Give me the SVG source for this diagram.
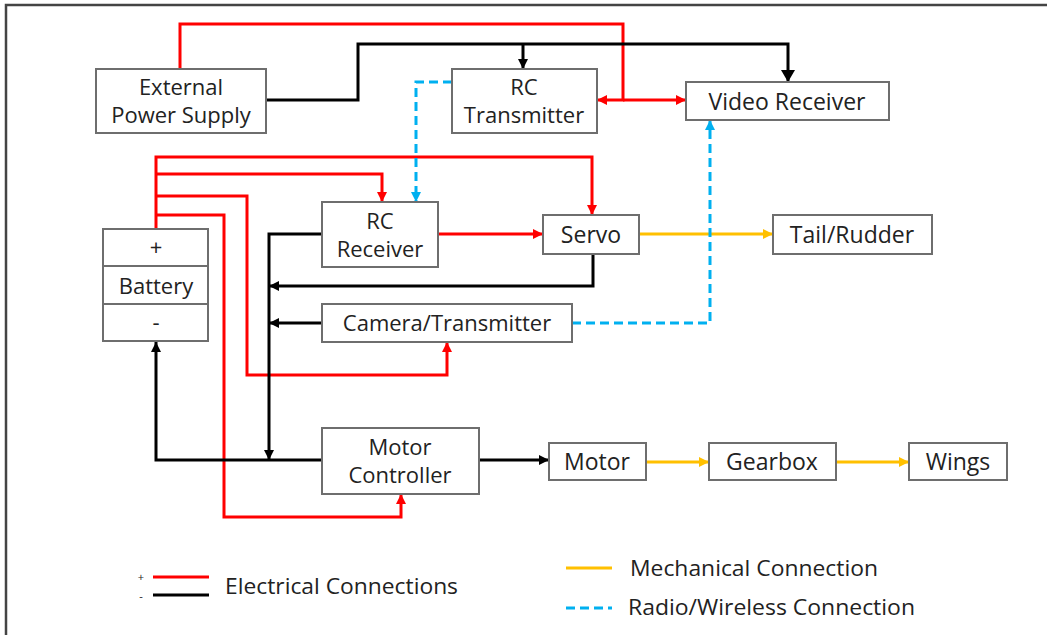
<svg xmlns="http://www.w3.org/2000/svg" width="1047" height="635" viewBox="0 0 1047 635">
<style>
.box{fill:#fff;stroke:#6e6e6e;stroke-width:2}
.t{font-family:"Open Sans","Liberation Sans",sans-serif;font-size:22px;fill:#222;text-anchor:middle}
.s{font-size:23px}
.lt{font-family:"Open Sans","Liberation Sans",sans-serif;font-size:21px;fill:#222}
.r{fill:none;stroke:#ff0000;stroke-width:3}
.k{fill:none;stroke:#000;stroke-width:3}
.y{fill:none;stroke:#ffc000;stroke-width:3}
.b{fill:none;stroke:#00b0f0;stroke-width:3;stroke-dasharray:9 5}
</style>
<defs>
<marker id="ar" markerUnits="userSpaceOnUse" markerWidth="10" markerHeight="10" refX="10" refY="5" orient="auto"><path d="M0,0 L10,5 L0,10 z" fill="#ff0000"/></marker>
<marker id="ak" markerUnits="userSpaceOnUse" markerWidth="10" markerHeight="10" refX="10" refY="5" orient="auto"><path d="M0,0 L10,5 L0,10 z" fill="#000"/></marker>
<marker id="akL" markerUnits="userSpaceOnUse" markerWidth="12" markerHeight="14" refX="12" refY="7" orient="auto"><path d="M0,0 L12,7 L0,14 z" fill="#000"/></marker>
<marker id="ay" markerUnits="userSpaceOnUse" markerWidth="10" markerHeight="10" refX="10" refY="5" orient="auto"><path d="M0,0 L10,5 L0,10 z" fill="#ffc000"/></marker>
<marker id="ab" markerUnits="userSpaceOnUse" markerWidth="10" markerHeight="10" refX="10" refY="5" orient="auto"><path d="M0,0 L10,5 L0,10 z" fill="#00b0f0"/></marker>
</defs>
<rect width="1047" height="635" fill="#fff"/>
<path d="M6,635 V5 H1047" fill="none" stroke="#444" stroke-width="2.5"/>

<g id="connectors">
<path class="r" d="M180,69 V24 H623 V100 H597" marker-end="url(#ar)"/>
<path class="r" d="M623,100 H686" marker-end="url(#ar)"/>
<path class="r" d="M156,229 V157 H592 V215" marker-end="url(#ar)"/>
<path class="r" d="M156,174 H382 V202" marker-end="url(#ar)"/>
<path class="r" d="M156,196 H247 V375 H447 V342" marker-end="url(#ar)"/>
<path class="r" d="M156,215 H224 V517 H401 V494" marker-end="url(#ar)"/>
<path class="r" d="M437,234 H543" marker-end="url(#ar)"/>
<path class="k" d="M266,100 H358 V44 H788 V82" marker-end="url(#akL)"/>
<path class="k" d="M523,44 V69" marker-end="url(#ak)"/>
<path class="k" d="M322,234 H269 V460" marker-end="url(#ak)"/>
<path class="k" d="M593,254 V286 H269" marker-end="url(#ak)"/>
<path class="k" d="M322,323 H269" marker-end="url(#ak)"/>
<path class="k" d="M322,460 H156 V342" marker-end="url(#ak)"/>
<path class="k" d="M479,460 H549" marker-end="url(#ak)"/>
<path class="y" d="M639,234 H773" marker-end="url(#ay)"/>
<path class="y" d="M646,462 H709" marker-end="url(#ay)"/>
<path class="y" d="M836,462 H909" marker-end="url(#ay)"/>
<path class="b" d="M452,82 H416 V202" marker-end="url(#ab)"/>
<path class="b" d="M572,323 H710 V120" marker-end="url(#ab)"/>
</g>

<g id="external-power-supply"><rect class="box" x="96" y="69" width="170" height="64"/><text class="t" x="181" y="95">External</text><text class="t" x="181" y="123">Power Supply</text></g>
<g id="rc-transmitter"><rect class="box" x="452" y="69" width="145" height="64"/><text class="t" x="524" y="95">RC</text><text class="t" x="524" y="123">Transmitter</text></g>
<g id="video-receiver"><rect class="box" x="686" y="82" width="203" height="38"/><text class="t s" x="787" y="110">Video Receiver</text></g>
<g id="rc-receiver"><rect class="box" x="322" y="202" width="116" height="65"/><text class="t" x="380" y="229">RC</text><text class="t" x="380" y="257">Receiver</text></g>
<g id="servo"><rect class="box" x="543" y="215" width="96" height="39"/><text class="t s" x="591" y="243">Servo</text></g>
<g id="tail-rudder"><rect class="box" x="773" y="215" width="159" height="39"/><text class="t s" x="852" y="243">Tail/Rudder</text></g>
<g id="battery"><rect class="box" x="103" y="229" width="105" height="112"/><path d="M103,266 H208 M103,304 H208" stroke="#6e6e6e" stroke-width="2"/><text class="t" x="156" y="255">+</text><text class="t" x="156" y="294">Battery</text><text class="t" x="156" y="330">-</text></g>
<g id="camera-transmitter"><rect class="box" x="322" y="304" width="250" height="38"/><text class="t" x="447" y="331">Camera/Transmitter</text></g>
<g id="motor-controller"><rect class="box" x="322" y="428" width="157" height="66"/><text class="t" x="400" y="455">Motor</text><text class="t" x="400" y="483">Controller</text></g>
<g id="motor"><rect class="box" x="549" y="443" width="97" height="37"/><text class="t s" x="597" y="470">Motor</text></g>
<g id="gearbox"><rect class="box" x="709" y="443" width="127" height="37"/><text class="t s" x="772" y="470">Gearbox</text></g>
<g id="wings"><rect class="box" x="909" y="443" width="98" height="37"/><text class="t s" x="958" y="470">Wings</text></g>

<g id="legend">
<text class="t" x="141" y="581" style="font-size:11px">+</text>
<text class="t" x="141" y="600" style="font-size:11px">-</text>
<path class="r" d="M153,577 H209"/>
<path class="k" d="M153,595 H209"/>
<text class="lt" x="225" y="594" textLength="233" lengthAdjust="spacingAndGlyphs">Electrical Connections</text>
<path class="y" d="M566,568 H612"/>
<text class="lt" x="630" y="576" textLength="248" lengthAdjust="spacingAndGlyphs">Mechanical Connection</text>
<path class="b" d="M566,608 H612"/>
<text class="lt" x="628" y="615" textLength="287" lengthAdjust="spacingAndGlyphs">Radio/Wireless Connection</text>
</g>
</svg>
